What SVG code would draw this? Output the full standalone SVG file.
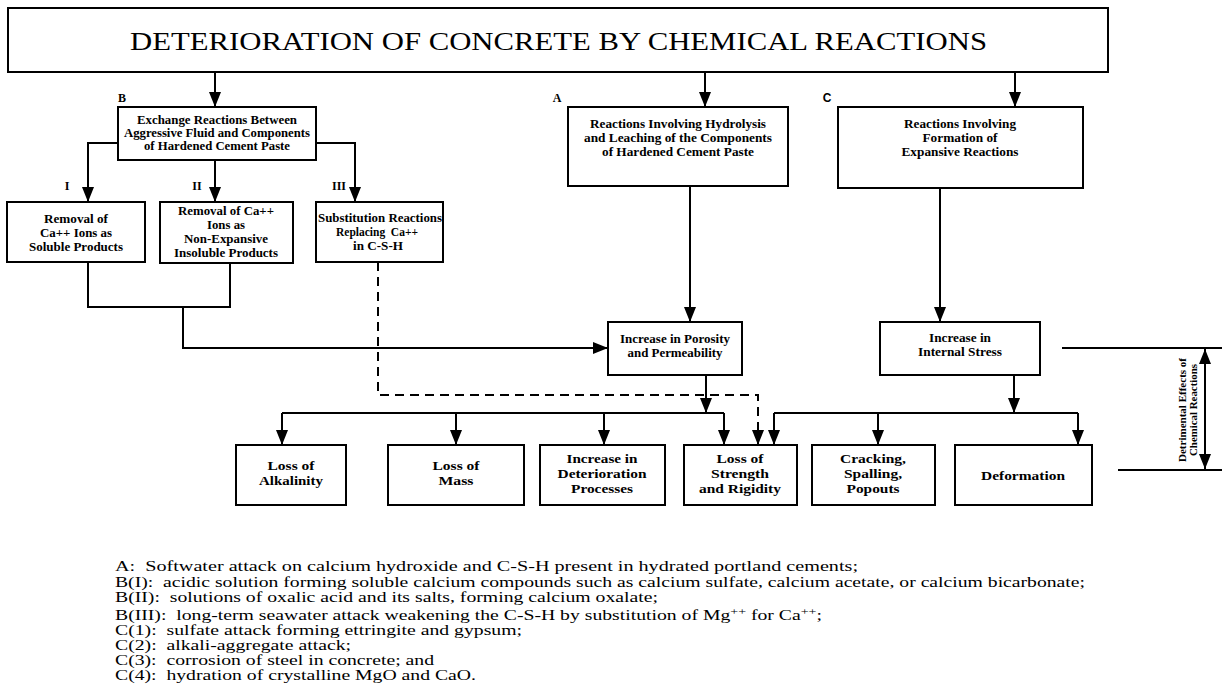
<svg xmlns="http://www.w3.org/2000/svg" width="1223" height="692" viewBox="0 0 1223 692">
<style>
.box{fill:#fff;stroke:#000;stroke-width:2}
.ln{fill:none;stroke:#000;stroke-width:2}
.dash{stroke-dasharray:9 6}
.t{font-family:"Liberation Serif","Times New Roman",serif;font-weight:bold;font-size:11.5px;text-anchor:middle;fill:#000}
.b{font-size:12.5px}
.lab{font-family:"Liberation Serif","Times New Roman",serif;font-weight:bold;font-size:12px;text-anchor:middle;fill:#000}
.fn{font-family:"Liberation Serif","Times New Roman",serif;font-size:15.5px;fill:#000}
.title{font-family:"Liberation Serif","Times New Roman",serif;font-size:25px;fill:#000}
</style>
<defs>
<marker id="ah" markerUnits="userSpaceOnUse" markerWidth="15" markerHeight="12" refX="15" refY="6" orient="auto"><path d="M0,0 L15,6 L0,12 Z" fill="#000"/></marker>
<marker id="ah2" markerUnits="userSpaceOnUse" markerWidth="15" markerHeight="12" refX="15" refY="6" orient="auto-start-reverse"><path d="M0,0 L15,6 L0,12 Z" fill="#000"/></marker>
</defs>
<rect width="1223" height="692" fill="#fff"/>

<g id="title">
<rect class="box" x="8" y="8" width="1100" height="64"/>
<text class="title" x="130" y="50" textLength="857" lengthAdjust="spacingAndGlyphs">DETERIORATION OF CONCRETE BY CHEMICAL REACTIONS</text>
</g>

<g id="nodeB">
<text class="lab" x="122" y="102">B</text>
<rect class="box" x="118" y="107" width="198" height="53"/>
<text class="t" x="217" y="124" textLength="160" lengthAdjust="spacingAndGlyphs">Exchange Reactions Between</text>
<text class="t" x="217" y="137" textLength="186" lengthAdjust="spacingAndGlyphs">Aggressive Fluid and Components</text>
<text class="t" x="217" y="150" textLength="146" lengthAdjust="spacingAndGlyphs">of Hardened Cement Paste</text>
</g>

<g id="nodeA">
<text class="lab" x="557" y="102">A</text>
<rect class="box" x="568" y="107" width="220" height="79"/>
<text class="t" x="678" y="128" textLength="176" lengthAdjust="spacingAndGlyphs">Reactions Involving Hydrolysis</text>
<text class="t" x="678" y="142" textLength="188" lengthAdjust="spacingAndGlyphs">and Leaching of the Components</text>
<text class="t" x="678" y="156" textLength="152" lengthAdjust="spacingAndGlyphs">of Hardened Cement Paste</text>
</g>

<g id="nodeC">
<text class="lab" x="827" y="102" style="font-family:'Liberation Sans',Arial,sans-serif">C</text>
<rect class="box" x="838" y="107" width="245" height="81"/>
<text class="t" x="960" y="128" textLength="112" lengthAdjust="spacingAndGlyphs">Reactions Involving</text>
<text class="t" x="960" y="142" textLength="75" lengthAdjust="spacingAndGlyphs">Formation of</text>
<text class="t" x="960" y="156" textLength="117" lengthAdjust="spacingAndGlyphs">Expansive Reactions</text>
</g>

<g id="nodeBI">
<text class="lab" x="67" y="190">I</text>
<rect class="box" x="7" y="202" width="138" height="60"/>
<text class="t" x="76" y="223" textLength="64" lengthAdjust="spacingAndGlyphs">Removal of</text>
<text class="t" x="76" y="237" textLength="72" lengthAdjust="spacingAndGlyphs">Ca++ Ions as</text>
<text class="t" x="76" y="251" textLength="94" lengthAdjust="spacingAndGlyphs">Soluble Products</text>
</g>

<g id="nodeBII">
<text class="lab" x="197" y="190">II</text>
<rect class="box" x="160" y="202" width="133" height="61"/>
<text class="t" x="226" y="215" textLength="96" lengthAdjust="spacingAndGlyphs">Removal of Ca++</text>
<text class="t" x="226" y="229" textLength="38" lengthAdjust="spacingAndGlyphs">Ions as</text>
<text class="t" x="226" y="243" textLength="84" lengthAdjust="spacingAndGlyphs">Non-Expansive</text>
<text class="t" x="226" y="257" textLength="104" lengthAdjust="spacingAndGlyphs">Insoluble Products</text>
</g>

<g id="nodeBIII">
<text class="lab" x="339" y="190">III</text>
<rect class="box" x="316" y="202" width="127" height="60"/>
<text class="t" x="380" y="222" textLength="124" lengthAdjust="spacingAndGlyphs">Substitution Reactions</text>
<text class="t" x="377" y="236" textLength="82" lengthAdjust="spacingAndGlyphs">Replacing&#160; Ca++</text>
<text class="t" x="378" y="250" textLength="50" lengthAdjust="spacingAndGlyphs">in C-S-H</text>
</g>

<g id="nodePorosity">
<rect class="box" x="608" y="322" width="134" height="53"/>
<text class="t" x="675" y="343" textLength="110" lengthAdjust="spacingAndGlyphs">Increase in Porosity</text>
<text class="t" x="675" y="357" textLength="95" lengthAdjust="spacingAndGlyphs">and Permeability</text>
</g>

<g id="nodeStress">
<rect class="box" x="880" y="322" width="160" height="53"/>
<text class="t" x="960" y="342" textLength="62" lengthAdjust="spacingAndGlyphs">Increase in</text>
<text class="t" x="960" y="356" textLength="84" lengthAdjust="spacingAndGlyphs">Internal Stress</text>
</g>

<g id="nodeAlkalinity">
<rect class="box" x="236" y="445" width="110" height="60"/>
<text class="t b" x="291" y="470" textLength="47" lengthAdjust="spacingAndGlyphs">Loss of</text>
<text class="t b" x="291" y="485" textLength="64" lengthAdjust="spacingAndGlyphs">Alkalinity</text>
</g>

<g id="nodeMass">
<rect class="box" x="388" y="445" width="136" height="60"/>
<text class="t b" x="456" y="470" textLength="47" lengthAdjust="spacingAndGlyphs">Loss of</text>
<text class="t b" x="456" y="485" textLength="35" lengthAdjust="spacingAndGlyphs">Mass</text>
</g>

<g id="nodeDeterioration">
<rect class="box" x="540" y="445" width="125" height="60"/>
<text class="t b" x="602" y="463" textLength="71" lengthAdjust="spacingAndGlyphs">Increase in</text>
<text class="t b" x="602" y="478" textLength="89" lengthAdjust="spacingAndGlyphs">Deterioration</text>
<text class="t b" x="602" y="493" textLength="62" lengthAdjust="spacingAndGlyphs">Processes</text>
</g>

<g id="nodeStrength">
<rect class="box" x="684" y="445" width="113" height="60"/>
<text class="t b" x="740" y="463" textLength="47" lengthAdjust="spacingAndGlyphs">Loss of</text>
<text class="t b" x="740" y="478" textLength="58" lengthAdjust="spacingAndGlyphs">Strength</text>
<text class="t b" x="740" y="493" textLength="82" lengthAdjust="spacingAndGlyphs">and Rigidity</text>
</g>

<g id="nodeCracking">
<rect class="box" x="812" y="445" width="123" height="60"/>
<text class="t b" x="873" y="463" textLength="66" lengthAdjust="spacingAndGlyphs">Cracking,</text>
<text class="t b" x="873" y="478" textLength="58" lengthAdjust="spacingAndGlyphs">Spalling,</text>
<text class="t b" x="873" y="493" textLength="53" lengthAdjust="spacingAndGlyphs">Popouts</text>
</g>

<g id="nodeDeformation">
<rect class="box" x="955" y="445" width="137" height="60"/>
<text class="t b" x="1023" y="480" textLength="84" lengthAdjust="spacingAndGlyphs">Deformation</text>
</g>

<g id="connectors">
<path class="ln" d="M215,72 V107" marker-end="url(#ah)"/>
<path class="ln" d="M705,72 V107" marker-end="url(#ah)"/>
<path class="ln" d="M1015,72 V107" marker-end="url(#ah)"/>
<path class="ln" d="M118,143 H88 V202" marker-end="url(#ah)"/>
<path class="ln" d="M215,160 V202" marker-end="url(#ah)"/>
<path class="ln" d="M316,143 H355 V202" marker-end="url(#ah)"/>
<path class="ln" d="M88,262 V307 H230 V263"/>
<path class="ln" d="M183,307 V348 H608" marker-end="url(#ah)"/>
<path class="ln dash" d="M378,262 V395 H758 V445" marker-end="url(#ah)"/>
<path class="ln" d="M690,186 V322" marker-end="url(#ah)"/>
<path class="ln" d="M940,188 V322" marker-end="url(#ah)"/>
<path class="ln" d="M706,375 V413" marker-end="url(#ah)"/>
<path class="ln" d="M282,413 H724"/>
<path class="ln" d="M282,413 V445" marker-end="url(#ah)"/>
<path class="ln" d="M456,413 V445" marker-end="url(#ah)"/>
<path class="ln" d="M604,413 V445" marker-end="url(#ah)"/>
<path class="ln" d="M724,413 V445" marker-end="url(#ah)"/>
<path class="ln" d="M1014,375 V413" marker-end="url(#ah)"/>
<path class="ln" d="M774,413 H1078"/>
<path class="ln" d="M774,413 V445" marker-end="url(#ah)"/>
<path class="ln" d="M878,413 V445" marker-end="url(#ah)"/>
<path class="ln" d="M1078,413 V445" marker-end="url(#ah)"/>
<path class="ln" d="M1062,348 H1222"/>
<path class="ln" d="M1118,470 H1222"/>
<path class="ln" d="M1205,349 V469" marker-start="url(#ah2)" marker-end="url(#ah2)"/>
</g>

<g id="dimensionLabel">
<text class="t" transform="translate(1186,410) rotate(-90)" style="font-size:10.5px" textLength="104" lengthAdjust="spacingAndGlyphs">Detrimental Effects of</text>
<text class="t" transform="translate(1197,410) rotate(-90)" style="font-size:10.5px" textLength="92" lengthAdjust="spacingAndGlyphs">Chemical Reactions</text>
</g>

<g id="footnotes">
<text class="fn" x="115" y="571" textLength="743" lengthAdjust="spacingAndGlyphs">A:&#160; Softwater attack on calcium hydroxide and C-S-H present in hydrated portland cements;</text>
<text class="fn" x="115" y="587" textLength="970" lengthAdjust="spacingAndGlyphs">B(I):&#160; acidic solution forming soluble calcium compounds such as calcium sulfate, calcium acetate, or calcium bicarbonate;</text>
<text class="fn" x="115" y="602" textLength="543" lengthAdjust="spacingAndGlyphs">B(II):&#160; solutions of oxalic acid and its salts, forming calcium oxalate;</text>
<text class="fn" x="115" y="620" textLength="707" lengthAdjust="spacingAndGlyphs">B(III):&#160; long-term seawater attack weakening the C-S-H by substitution of Mg<tspan dy="-5" font-size="11">++</tspan><tspan dy="5"> for Ca</tspan><tspan dy="-5" font-size="11">++</tspan><tspan dy="5">;</tspan></text>
<text class="fn" x="115" y="635" textLength="407" lengthAdjust="spacingAndGlyphs">C(1):&#160; sulfate attack forming ettringite and gypsum;</text>
<text class="fn" x="115" y="650" textLength="236" lengthAdjust="spacingAndGlyphs">C(2):&#160; alkali-aggregate attack;</text>
<text class="fn" x="115" y="665" textLength="319" lengthAdjust="spacingAndGlyphs">C(3):&#160; corrosion of steel in concrete; and</text>
<text class="fn" x="115" y="680" textLength="361" lengthAdjust="spacingAndGlyphs">C(4):&#160; hydration of crystalline MgO and CaO.</text>
</g>
</svg>
